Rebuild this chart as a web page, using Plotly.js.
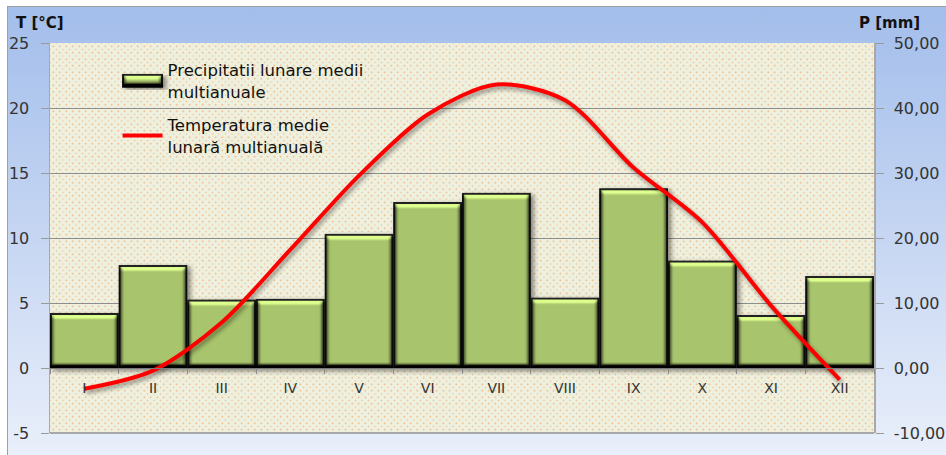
<!DOCTYPE html>
<html>
<head>
<meta charset="utf-8">
<script src="https://cdn.plot.ly/plotly-3.0.1.min.js"></script>
<style>
  html, body { margin: 0; padding: 0; width: 946px; height: 455px; overflow: hidden; background: #ffffff; }
  #wrap { position: absolute; left: 7px; top: 6px; width: 945px; height: 455px; box-sizing: border-box;
          border: 1px solid #a0a0a0; background: linear-gradient(to bottom, #a3beeb 0%, #c9d8f3 55%, #eaf0fb 100%); }
  #plotbg { position: absolute; left: 50px; top: 43px; width: 824px; height: 390px;
            background-color: #eef0e0;
            background-image: radial-gradient(circle, rgba(240,150,70,0.75) 0.6px, rgba(0,0,0,0) 1.1px),
                              radial-gradient(circle, rgba(240,150,70,0.45) 0.6px, rgba(0,0,0,0) 1.1px);
            background-size: 6.5px 6.5px, 6.5px 6.5px;
            background-position: 0 0, 3.25px 3.25px; }
  #chart { position: absolute; left: 0; top: 0; width: 946px; height: 455px; }
</style>
</head>
<body>
<div id="wrap"></div>
<div id="plotbg"></div>
<svg width="0" height="0" style="position:absolute;left:0;top:0">
  <defs>
    <filter id="bevel" x="-10%" y="-10%" width="130%" height="130%" color-interpolation-filters="sRGB">
      <feGaussianBlur in="SourceAlpha" stdDeviation="2.5" result="blur"/>
      <feDiffuseLighting in="blur" surfaceScale="8" diffuseConstant="1" lighting-color="#ffffff" result="light">
        <feDistantLight azimuth="270" elevation="48"/>
      </feDiffuseLighting>
      <feComposite in="SourceGraphic" in2="light" operator="arithmetic" k1="1.34" k2="0" k3="0" k4="0" result="lit"/>
      <feComposite in="lit" in2="SourceAlpha" operator="in" result="litIn"/>
      <feGaussianBlur in="SourceAlpha" stdDeviation="2.5" result="sb"/>
      <feOffset in="sb" dx="3" dy="2" result="so"/>
      <feComponentTransfer in="so" result="shadow"><feFuncA type="linear" slope="0.45"/></feComponentTransfer>
      <feMerge><feMergeNode in="shadow"/><feMergeNode in="litIn"/></feMerge>
    </filter>
    <filter id="lineshadow" x="-10%" y="-10%" width="130%" height="130%" color-interpolation-filters="sRGB">
      <feGaussianBlur in="SourceAlpha" stdDeviation="2" result="sb"/>
      <feOffset in="sb" dx="2" dy="3" result="so"/>
      <feComponentTransfer in="so" result="shadow"><feFuncA type="linear" slope="0.4"/></feComponentTransfer>
      <feMerge><feMergeNode in="shadow"/><feMergeNode in="SourceGraphic"/></feMerge>
    </filter>
  </defs>
</svg>
<div id="chart"></div>
<script>
// ---- data ----
const months = ["I", "II", "III", "IV", "V", "VI", "VII", "VIII", "IX", "X", "XI", "XII"];
const precipitation = [8.3, 15.7, 10.4, 10.5, 20.5, 25.4, 26.8, 10.7, 27.5, 16.4, 8.0, 14.0];
const temperature = [-1.6, -0.2, 3.5, 9.1, 14.8, 19.5, 21.8, 20.6, 15.4, 11.2, 4.8, -0.9];
const tempTickVals = [-5, 0, 5, 10, 15, 20, 25];
const tempTickText = ["-5", "0", "5", "10", "15", "20", "25"];
const precipTickVals = [-10, 0, 10, 20, 30, 40, 50];
const precipTickText = ["-10,00", "0,00", "10,00", "20,00", "30,00", "40,00", "50,00"];
const precipName = "Precipitatii lunare medii<br>multianuale";
const tempName = "Temperatura medie<br>lunară multianuală";
const tempAxisTitle = "T [°C]";
const precipAxisTitle = "P [mm]";

const font = "DejaVu Sans, Verdana, sans-serif";

const traces = [
  {
    type: "bar",
    x: months,
    y: precipitation,
    name: precipName,
    legendgroup: "p",
    xaxis: "x",
    yaxis: "y",
    marker: { color: "#a8c46c", line: { color: "#1c1c1c", width: 2 } },
    hoverinfo: "skip"
  },
  {
    type: "scatter",
    mode: "lines",
    x: months,
    y: temperature,
    name: tempName,
    legendgroup: "t",
    xaxis: "x",
    yaxis: "y2",
    line: { color: "#ff0000", width: 4, shape: "spline", smoothing: 0.85 },
    hoverinfo: "skip"
  }
];

const layout = {
  width: 946,
  height: 455,
  margin: { l: 50, r: 72, t: 43, b: 22, pad: 0 },
  paper_bgcolor: "rgba(0,0,0,0)",
  plot_bgcolor: "rgba(0,0,0,0)",
  bargap: 0.025,
  showlegend: true,
  hovermode: false,
  font: { family: font, color: "#333333", size: 14 },
  legend: {
    x: 0.082, y: 0.975, xanchor: "left", yanchor: "top",
    bgcolor: "rgba(0,0,0,0)",
    font: { family: font, size: 16.5, color: "#111111" },
    traceorder: "grouped",
    tracegroupgap: 9,
    itemwidth: 40
  },
  xaxis: {
    type: "category",
    anchor: "free",
    position: 1 / 6,
    showline: true,
    linecolor: "#7a7a7a",
    linewidth: 1,
    tickson: "boundaries",
    ticks: "outside",
    ticklen: 5,
    tickcolor: "#8a8a8a",
    showgrid: false,
    zeroline: false,
    ticklabelstandoff: 7,
    tickfont: { family: font, size: 14, color: "#333333" },
    fixedrange: true
  },
  yaxis: {
    range: [-10, 50],
    tickmode: "array",
    tickvals: precipTickVals,
    ticktext: precipTickText,
    side: "right",
    showgrid: true,
    gridcolor: "#8e8e8e",
    gridwidth: 1,
    zeroline: false,
    showline: true,
    linecolor: "#a8a8a8",
    linewidth: 1.5,
    ticks: "outside",
    ticklen: 8,
    tickcolor: "#9a9a9a",
    ticklabelstandoff: 7,
    tickfont: { family: font, size: 16, color: "#333333" },
    fixedrange: true
  },
  yaxis2: {
    range: [-5, 25],
    tickmode: "array",
    tickvals: tempTickVals,
    ticktext: tempTickText,
    side: "left",
    overlaying: "y",
    showgrid: false,
    zeroline: false,
    showline: true,
    linecolor: "#a8a8a8",
    linewidth: 1.5,
    ticks: "outside",
    ticklen: 8,
    tickcolor: "#9a9a9a",
    ticklabelstandoff: 8,
    tickfont: { family: font, size: 16, color: "#333333" },
    fixedrange: true
  },
  shapes: [
    { type: "line", xref: "paper", yref: "paper", x0: 0, x1: 1, y0: 0, y1: 0,
      line: { color: "#a8a8a8", width: 2 } }
  ],
  annotations: [
    { text: "<b>" + tempAxisTitle + "</b>", xref: "paper", yref: "paper",
      x: -0.044, y: 1.022, xanchor: "left", yanchor: "bottom", showarrow: false,
      font: { family: font, size: 15, color: "#111111" } },
    { text: "<b>" + precipAxisTitle + "</b>", xref: "paper", yref: "paper",
      x: 1.058, y: 1.022, xanchor: "right", yanchor: "bottom", showarrow: false,
      font: { family: font, size: 15, color: "#111111" } }
  ]
};

Plotly.newPlot("chart", traces, layout, { displayModeBar: false, staticPlot: true }).then(function () {
  document.querySelectorAll("#chart .barlayer .point path").forEach(function (p) {
    p.setAttribute("filter", "url(#bevel)");
  });
  document.querySelectorAll("#chart .scatterlayer .js-line").forEach(function (p) {
    p.setAttribute("filter", "url(#lineshadow)");
  });
  // widen the bar legend swatch to a flat rectangle like the original
  const legendTraces = document.querySelectorAll("#chart .legend .traces");
  if (legendTraces.length) {
    const sym = legendTraces[0].querySelector(".legendpoints path");
    if (sym) {
      const tr = sym.getAttribute("transform") || "";
      if (tr.indexOf("translate") >= 0) {
        sym.setAttribute("d", "M19.5,6H-19.5V-6H19.5Z");
      } else {
        sym.setAttribute("d", "M39.5,6H0.5V-6H39.5Z");
      }
      sym.setAttribute("filter", "url(#bevel)");
    }
  }
});
</script>
</body>
</html>
